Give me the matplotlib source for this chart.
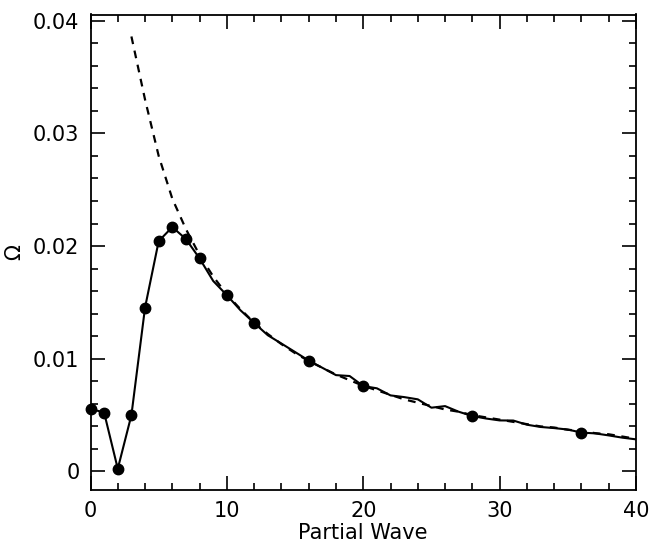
import matplotlib
matplotlib.use("Agg")
import matplotlib.pyplot as plt
from matplotlib.ticker import MultipleLocator

# Partial wave index for the solid curve
partial_wave = list(range(0, 41))
omega_solid = [0.00557, 0.00522, 0.00024, 0.00500, 0.01455, 0.02044, 0.02169, 0.02062,
               0.01890, 0.01690, 0.01564, 0.01430, 0.01318, 0.01209, 0.01135, 0.01060,
               0.00984, 0.00920, 0.00855, 0.00847, 0.00758, 0.00738, 0.00675, 0.00660,
               0.00640, 0.00566, 0.00580, 0.00530, 0.00492, 0.00470, 0.00453, 0.00452,
               0.00415, 0.00395, 0.00385, 0.00372, 0.00345, 0.00338, 0.00320, 0.00300,
               0.00285]

# Marked points
marked_wave = [0, 1, 2, 3, 4, 5, 6, 7, 8, 10, 12, 16, 20, 28, 36]
omega_marked = [0.00557, 0.00522, 0.00024, 0.00500, 0.01455, 0.02044, 0.02169, 0.02062,
                0.01890, 0.01564, 0.01318, 0.00984, 0.00758, 0.00492, 0.00340]

# Dashed (top-up) curve
dashed_wave = list(range(3, 41))
omega_dashed = [0.0386, 0.0330, 0.0280, 0.0242, 0.0215, 0.0192, 0.0173, 0.0157,
                0.0144, 0.0132, 0.0122, 0.0113, 0.0105, 0.0098, 0.0092, 0.0086,
                0.0081, 0.0076, 0.0072, 0.0068, 0.0064, 0.0061, 0.0058, 0.0055,
                0.0053, 0.0050, 0.0048, 0.0046, 0.0044, 0.0042, 0.0040, 0.0039,
                0.0037, 0.0036, 0.0034, 0.0033, 0.0031, 0.0029]

fig = plt.figure(figsize=(6.49, 5.46), dpi=100)
ax = fig.add_axes([90.5/649, 1-489.5/546, (636-90.5)/649, (489.5-14.5)/546])

ax.plot(dashed_wave, omega_dashed, color='black', lw=1.6, linestyle=(0, (3.5, 3.0)))
ax.plot(partial_wave, omega_solid, color='black', lw=1.5)
ax.plot(marked_wave, omega_marked, linestyle='none', marker='o', ms=7.5,
        color='black', clip_on=False, zorder=5)

ax.set_xlim(0, 40)
ax.set_ylim(-0.0016, 0.04055)
ax.xaxis.set_major_locator(MultipleLocator(10))
ax.xaxis.set_minor_locator(MultipleLocator(2))
ax.yaxis.set_major_locator(MultipleLocator(0.01))
ax.yaxis.set_minor_locator(MultipleLocator(0.002))
ax.set_yticks([0, 0.01, 0.02, 0.03, 0.04])
ax.set_yticklabels(['0', '0.01', '0.02', '0.03', '0.04'])
ax.tick_params(which='both', direction='in', top=True, right=True, width=1.2,
               labelsize=15, pad=8)
ax.tick_params(which='major', length=10)
ax.tick_params(which='minor', length=5)
for s in ax.spines.values():
    s.set_linewidth(1.3)

ax.set_xlabel('Partial Wave', fontsize=15, labelpad=2)
ax.set_ylabel('Ω', fontsize=15, labelpad=6)

fig.savefig('out.png', dpi=100)
